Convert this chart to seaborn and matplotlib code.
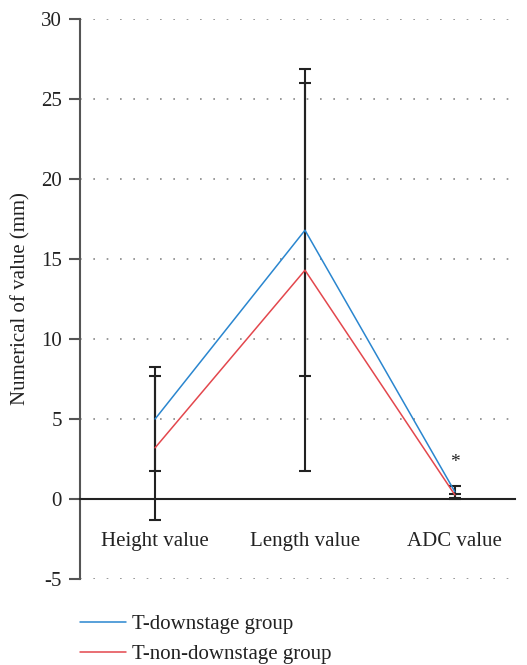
import matplotlib
matplotlib.use("Agg")
import matplotlib.pyplot as plt
import seaborn as sns
import pandas as pd
import numpy as np

categories = ["Height value", "Length value", "ADC value"]
groups = ["T-downstage group", "T-non-downstage group"]
down_mean = [5.0, 16.8, 0.45]
down_low = [1.75, 7.7, 0.08]
down_high = [8.25, 26.9, 0.83]
nondown_mean = [3.2, 14.3, 0.25]
nondown_low = [-1.3, 1.75, 0.0]
nondown_high = [7.7, 26.0, 0.32]
yticks = [-5, 0, 5, 10, 15, 20, 25, 30]
star_label = "*"
star_y = 2.3

colors = {"T-downstage group": "#2a86cf", "T-non-downstage group": "#e3474d"}

df = pd.DataFrame({
    "category": categories * 2,
    "value": down_mean + nondown_mean,
    "group": [groups[0]] * 3 + [groups[1]] * 3,
})

sns.set_theme(style="white")
plt.rcParams["font.family"] = ["Liberation Serif", "DejaVu Serif"]

FS = 15
fig = plt.figure(figsize=(5.27, 6.65), dpi=100)
ax = fig.add_axes([0.152, 0.1293, 0.825, 0.8421])

# error bars
for mean, lo, hi in [(down_mean, down_low, down_high), (nondown_mean, nondown_low, nondown_high)]:
    m = np.array(mean)
    yerr = [m - np.array(lo), np.array(hi) - m]
    ax.errorbar(categories, m, yerr=yerr, fmt="none", ecolor="#222222",
                elinewidth=1.5, capsize=4.5, capthick=1.5, zorder=2)

sns.lineplot(data=df, x="category", y="value", hue="group", hue_order=groups,
             palette=colors, sort=False, linewidth=1.1, ax=ax, legend=True, zorder=3)

ax.text(categories[2], star_y, star_label, ha="center", va="center", fontsize=14, color="#222222")

ax.set_xlim(-0.5, 2.4)
ax.set_ylim(-5, 30)
ax.set_yticks(yticks)
ax.set_yticklabels([str(t) for t in yticks], fontsize=FS, color="#222222")
ax.yaxis.grid(True, linestyle=(0, (1, 7)), color="#888888", linewidth=1.2)
ax.xaxis.grid(False)
ax.set_axisbelow(True)

for s in ["top", "right"]:
    ax.spines[s].set_visible(False)
ax.spines["left"].set_color("#555555")
ax.spines["left"].set_linewidth(1.5)
ax.spines["bottom"].set_position(("data", 0))
ax.spines["bottom"].set_color("#222222")
ax.spines["bottom"].set_linewidth(1.5)
ax.tick_params(axis="y", direction="out", length=8, width=1.5, color="#555555", left=True, pad=5)
ax.tick_params(axis="x", length=0, pad=24, labelsize=FS, labelcolor="#222222")

ax.set_xlabel("")
ax.set_ylabel("Numerical of value (mm)", fontsize=FS, color="#222222", labelpad=8)

h, l = ax.get_legend_handles_labels()
ax.get_legend().remove()
fig.legend(h, l, loc="upper left", bbox_to_anchor=(0.152, 0.076), frameon=False,
           fontsize=FS, handlelength=2.2, handletextpad=0.3, labelspacing=0.5,
           borderpad=0, borderaxespad=0, labelcolor="#222222")

fig.savefig("out.png", dpi=100)
